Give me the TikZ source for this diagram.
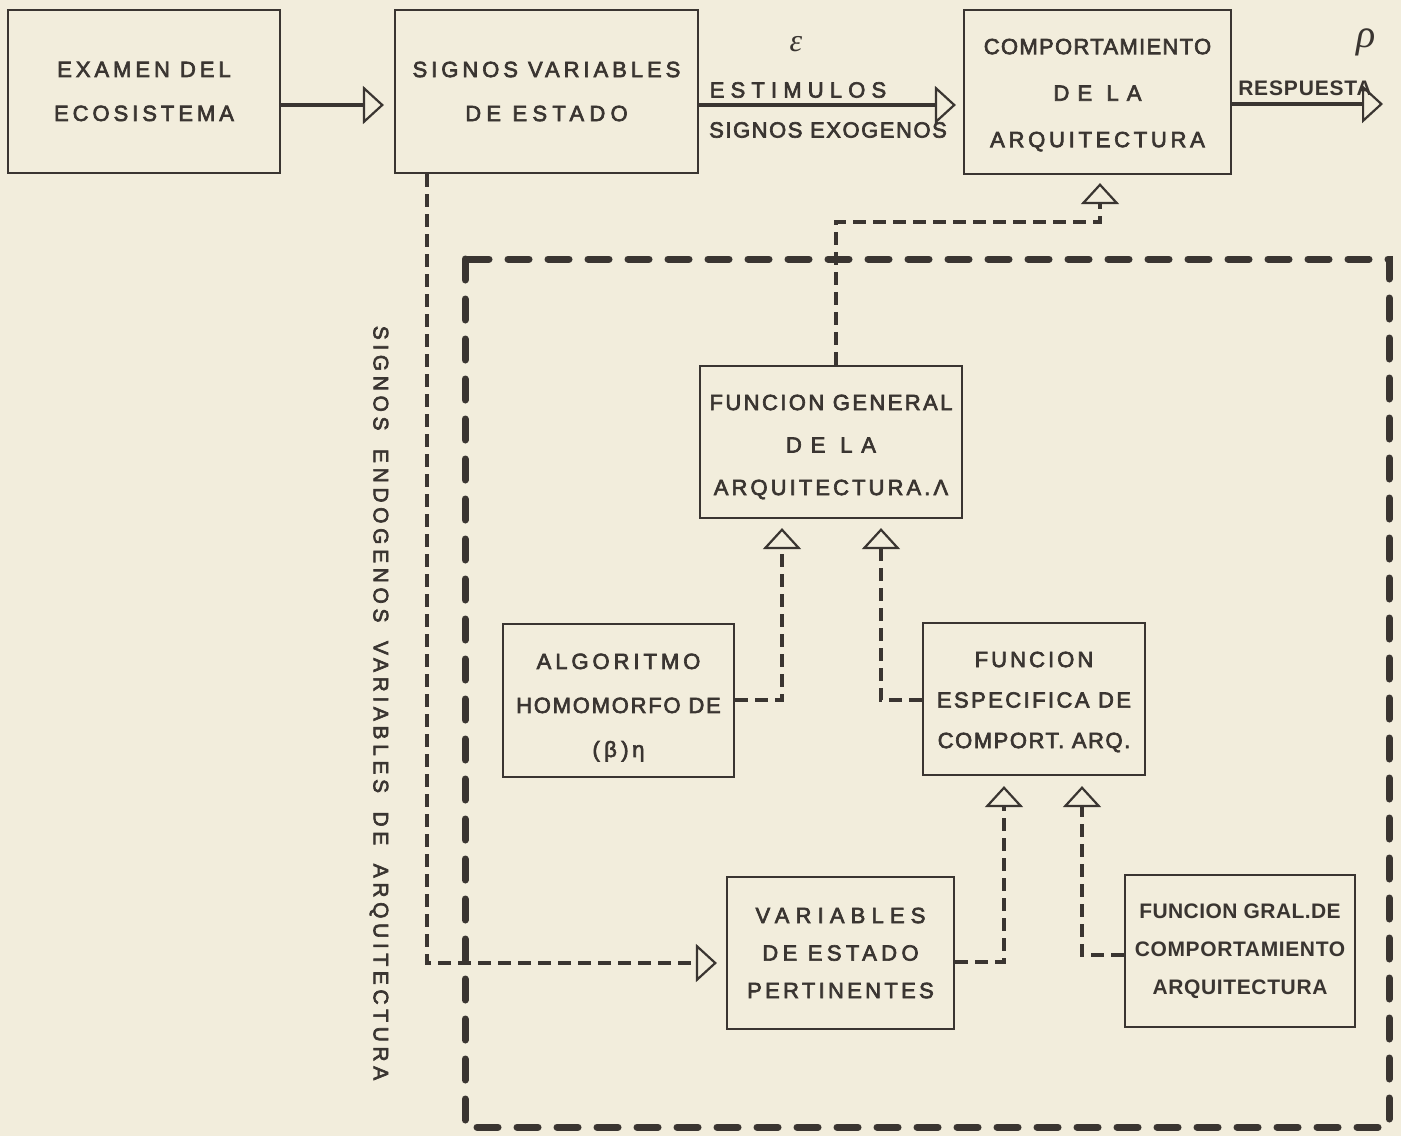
\documentclass[tikz,border=0pt]{standalone}
\usepackage{fontspec}
\setmainfont{Liberation Sans}
\newfontfamily\lr[FakeBold=3]{Liberation Sans}
\newfontfamily\lrb{Liberation Sans Bold}
\newfontfamily\lser{Liberation Serif}
\usetikzlibrary{arrows.meta}
\definecolor{paper}{HTML}{F2EDDC}
\definecolor{ink}{HTML}{3A3531}
\newcommand{\LS}[2]{{\addfontfeature{LetterSpace=#1}#2}}
\newcommand{\dn}[1]{\rule{0pt}{#1pt}}
\begin{document}
\begin{tikzpicture}[x=1pt,y=-1pt,
  box/.style={draw=ink, line width=2.2pt, rectangle, inner sep=0pt, align=center, text=ink, font=\lr\fontsize{22}{44}\selectfont},
  tip/.style={-{Triangle[open,length=21pt,width=38pt,line width=2.2pt]}},
  solidarrow/.style={draw=ink, line width=3.5pt, tip},
  thindash/.style={draw=ink, line width=3.2pt, dash pattern=on 13pt off 7pt},
  thickdash/.style={draw=ink, line width=7pt, line cap=round, dash pattern=on 21pt off 19pt},
  lbl/.style={text=ink, inner sep=0pt, font=\lr\fontsize{22}{26}\selectfont}
]
\fill[paper] (0,0) rectangle (1401,1136);
\useasboundingbox (0,0) rectangle (1401,1136);

% boxes
\node[box, minimum width=272pt, minimum height=163pt] (ex) at (144,91.5)
  {\LS{18}{EXAMEN DEL}\\\LS{18}{ECOSISTEMA}};
\node[box, minimum width=303pt, minimum height=163pt] (sv) at (546.5,91.5)
  {\LS{18}{SIGNOS VARIABLES}\\\LS{24}{DE ESTADO}};
\node[box, minimum width=267pt, minimum height=164pt, font=\lr\fontsize{22}{46.5}\selectfont] (ca) at (1097.5,92)
  {\dn{21.5}\LS{6}{COMPORTAMIENTO}\\\LS{37}{DE LA}\\\LS{17}{ARQUITECTURA}};
\node[box, minimum width=262pt, minimum height=152pt, font=\lr\fontsize{22}{42.5}\selectfont] (fg) at (831,442)
  {\dn{25.3}\LS{11}{FUNCION GENERAL}\\\LS{40}{DE LA}\\\LS{14}{ARQUITECTURA.Λ}};
\node[box, minimum width=231pt, minimum height=153pt] (al) at (618.5,700.5)
  {\dn{29.5}\LS{18}{ALGORITMO}\\\LS{8}{HOMOMORFO DE}\\\LS{20}{(β)\,η}};
\node[box, minimum width=222pt, minimum height=152pt, font=\lr\fontsize{22}{40.5}\selectfont] (fe) at (1034,699)
  {\dn{21.3}\LS{14}{FUNCION}\\\LS{11}{ESPECIFICA DE}\\\LS{7}{COMPORT. ARQ.}};
\node[box, minimum width=227pt, minimum height=152pt, font=\lr\fontsize{22}{37.5}\selectfont] (vp) at (840.5,953)
  {\LS{28}{VARIABLES}\\\LS{20}{DE ESTADO}\\\LS{15}{PERTINENTES}};
\node[box, minimum width=230pt, minimum height=152pt, font=\lrb\fontsize{21}{38}\selectfont] (fgc) at (1240,951)
  {\LS{2}{FUNCION GRAL.DE}\\\LS{3}{COMPORTAMIENTO}\\\LS{3}{ARQUITECTURA}};

% labels
\node[lbl, font=\lser\itshape\fontsize{32}{36}\selectfont] (eps) at (796,44) {ε};
\node[lbl, font=\lser\itshape\fontsize{40}{44}\selectfont] (rho) at (1366,42) {ρ};
\node[lbl] (est) at (798,90) {\LS{28}{ESTIMULOS}};
\node[lbl] (exo) at (828,130) {\LS{7}{SIGNOS EXOGENOS}};
\node[lbl, font=\lrb\fontsize{21}{26}\selectfont] (resp) at (1305,88) {\LS{4}{RESPUESTA}};
\node[lbl, rotate=-90, font=\lr\fontsize{21}{24}\selectfont] (vt) at (379,703)
  {\LS{22}{SIGNOS\hspace{8pt} ENDOGENOS\hspace{8pt} VARIABLES\hspace{8pt} DE\hspace{8pt} ARQUITECTURA}};

% coordinates
\coordinate (r105) at (0,105);
\coordinate (respend) at (1383,104);
\coordinate (j1) at (1100,222);
\coordinate (a1) at (782,700);
\coordinate (a2) at (881,700);
\coordinate (a3) at (1004,962);
\coordinate (a4) at (1082,955);
\coordinate (a5) at (427,963);
\coordinate (rtl) at (465,259);
\coordinate (rbr) at (1389,1127);

% big dashed frame
\draw[thickdash] (rtl) rectangle (rbr);

% solid arrows
\draw[solidarrow, shorten >=10pt] (ex.east |- r105) -- (sv.west |- r105);
\draw[solidarrow, shorten >=7pt] (sv.east |- r105) -- (ca.west |- r105);
\draw[solidarrow] (ca.east |- respend) -- (respend);

% dashed connectors
\draw[thindash, tip, shorten >=8pt] ([xshift=5pt]fg.north) |- (j1) -- (j1 |- ca.south);
\draw[thindash, tip, shorten >=9pt] (al.east |- a1) -| (a1 |- fg.south);
\draw[thindash, tip, shorten >=9pt] (fe.west |- a2) -| (a2 |- fg.south);
\draw[thindash, tip, shorten >=10pt] (vp.east |- a3) -| (a3 |- fe.south);
\draw[thindash, tip, shorten >=10pt] (fgc.west |- a4) -| (a4 |- fe.south);
\draw[thindash, tip, shorten >=9pt] (a5 |- sv.south) -- (a5) -- (a5 -| vp.west);
\end{tikzpicture}
\end{document}
